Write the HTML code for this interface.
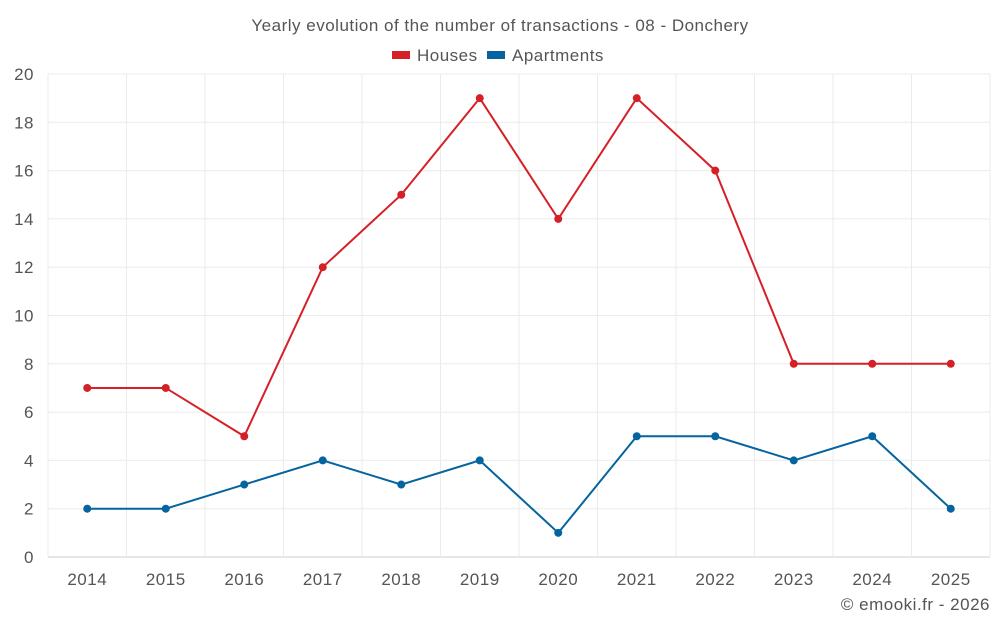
<!DOCTYPE html>
<html><head><meta charset="utf-8"><style>
body{margin:0;background:#fff;font-family:"Liberation Sans",sans-serif;}
svg text{font-family:"Liberation Sans",sans-serif;fill:#555;letter-spacing:0.5px;}
</style></head><body>
<svg id="chart" width="1000" height="625">
<text x="500" y="31" text-anchor="middle" font-size="17">Yearly evolution of the number of transactions - 08 - Donchery</text>
<g>
<rect x="392" y="51" width="18" height="8" fill="#d62027"/>
<text x="417" y="61" font-size="17">Houses</text>
<rect x="487" y="51" width="18" height="8" fill="#0464a0"/>
<text x="512" y="61" font-size="17">Apartments</text>
</g>
<g id="grid"></g><g id="axes"></g><g id="series"></g>
<text x="990" y="610" text-anchor="end" font-size="17">© emooki.fr - 2026</text>
</svg>
<script>
const years=["2014","2015","2016","2017","2018","2019","2020","2021","2022","2023","2024","2025"];
const houses=[7,7,5,12,15,19,14,19,16,8,8,8];
const apartments=[2,2,3,4,3,4,1,5,5,4,5,2];
const yTicks=[0,2,4,6,8,10,12,14,16,18,20];
const L=48,R=990,T=74,B=557,yMax=20;
const band=(R-L)/years.length;
const x=i=>L+band*(i+0.5);
const y=v=>B-(B-T)*v/yMax;
const ns="http://www.w3.org/2000/svg";
function mk(tag,attrs,parent){const e=document.createElementNS(ns,tag);for(const k in attrs)e.setAttribute(k,attrs[k]);parent.appendChild(e);return e;}
const grid=document.getElementById('grid'),axes=document.getElementById('axes'),ser=document.getElementById('series');
yTicks.forEach(t=>{
 const l=mk('line',{x1:L,x2:R,y1:y(t),y2:y(t),stroke:t===0?'#ccc':'#ebebeb'},grid);
 
 
 const tx=mk('text',{x:34,y:y(t)+6,'text-anchor':'end','font-size':17},axes);
 tx.textContent=t;
 
 
});
for(let i=0;i<=years.length;i++){
 const l=mk('line',{x1:L+band*i,x2:L+band*i,y1:T,y2:B,stroke:'#ebebeb'},grid);
 
 
}
years.forEach((yr,i)=>{
 const tx=mk('text',{x:x(i),y:585,'text-anchor':'middle','font-size':17},axes);
 tx.textContent=yr;
 
 
});
function draw(data,color,name){
 const p=mk('polyline',{points:data.map((v,i)=>x(i)+','+y(v)).join(' '),fill:'none',stroke:color,'stroke-width':2},ser);
 
 
 data.forEach((v,i)=>{
  const c=mk('circle',{cx:x(i),cy:y(v),r:4,fill:color},ser);
  
  
 });
}
draw(houses,'#d62027','houses');
draw(apartments,'#0464a0','apartments');
</script>
</body></html>
